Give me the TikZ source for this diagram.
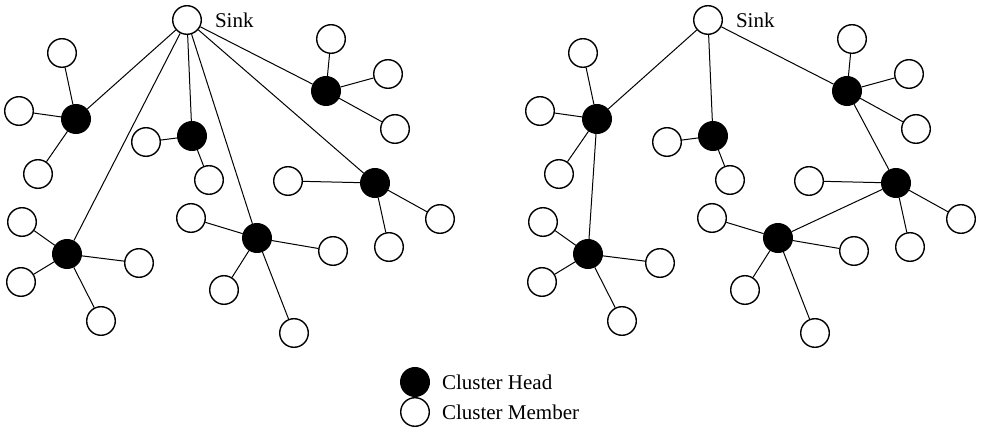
\documentclass[tikz,border=0pt]{standalone}
\usepackage{fontspec}
\setmainfont{Liberation Serif}
\usetikzlibrary{positioning}

\tikzset{
  member/.style={circle, draw, fill=white, minimum size=14.3pt, inner sep=0pt, line width=0.7pt},
  head/.style={member, fill=black},
  link/.style={line width=0.5pt},
}

\begin{document}
\begin{tikzpicture}[x=0.5pt, y=-0.5pt, font=\fontsize{10.5}{12}\selectfont]
    \useasboundingbox (0,0) rectangle (981,433);

    % the same field twice, left: single hop, right: multi hop
    \foreach \p/\dx in {L/0, R/521} {
      \begin{scope}[shift={(\dx,0)}]
        % sink
        \node[member] (\p s) at (187,20) {};
        \node[right=3pt of \p s] (\p sl) {Sink};

        % cluster heads
        \node[head] (\p h1) at (76,119) {};
        \node[head] (\p h2) at (192,136) {};
        \node[head] (\p h3) at (326,91) {};
        \node[head] (\p h4) at (375,183) {};
        \node[head] (\p h5) at (257,238) {};
        \node[head] (\p h6) at (67,254) {};

        % cluster members and their links to the head
        \foreach \h/\mx/\my in {1/62/53, 1/19/111, 1/38/174,
                                2/146/142, 2/209/180,
                                3/331/39, 3/388/74, 3/395/129,
                                4/288/181, 4/440/219, 4/389/247,
                                5/191/218, 5/333/251, 5/224/290, 5/294/333,
                                6/22/222, 6/21/282, 6/139/263, 6/101/321} {
          \node[member] (\p m\h\mx) at (\mx,\my) {};
          \draw[link] (\p h\h) -- (\p m\h\mx);
        }
      \end{scope}
    }

    % left: every head sends straight to the sink
    \foreach \h in {1,...,6}
      \draw[link] (Ls) -- (Lh\h);

    % right: heads relay through other heads
    \draw[link] (Rs) -- (Rh1);
    \draw[link] (Rs) -- (Rh2);
    \draw[link] (Rs) -- (Rh3);
    \draw[link] (Rh1) -- (Rh6);
    \draw[link] (Rh3) -- (Rh4);
    \draw[link] (Rh4) -- (Rh5);

    % legend
    \node[head] (key1) at (415,382) {};
    \node[right=2.5pt of key1] (key1l) {Cluster Head};
    \node[member] (key2) at (415,412) {};
    \node[right=2.5pt of key2] (key2l) {Cluster Member};
\end{tikzpicture}
\end{document}
